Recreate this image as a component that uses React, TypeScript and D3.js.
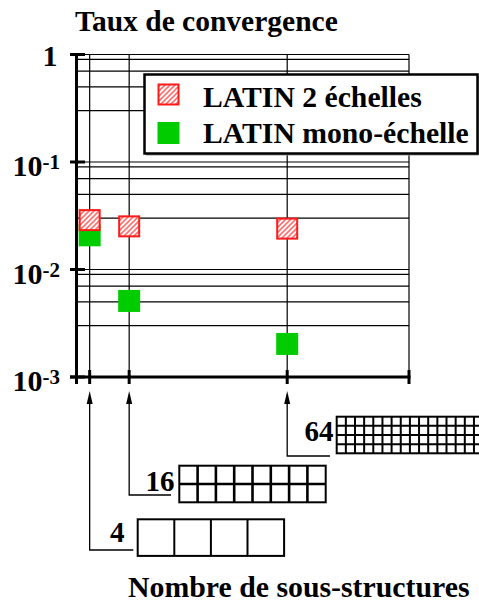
import React from "react";
import * as d3 from "d3";

// nombre de sous-structures (abscisses) et taux de convergence
const subdomains = [4, 16, 64];
const latinTwoScale = [0.0288, 0.0252, 0.024];
const latinMonoScale = [0.0208, 0.0051, 0.00203];
const seriesNames = ["LATIN 2 échelles", "LATIN mono-échelle"];
const xTicks = [0, 4, 16, 64, 101];
const yMajor = [1, 0.1, 0.01, 0.001];
const yExponents = ["", "-1", "-2", "-3"];
const yMinorFactors = [1, 0.9, 0.7, 0.5, 0.3];
const gridCols = [4, 8, 16];
const gridRows = [1, 2, 4];

const W = 479;
const H = 606;
const RED = "#ff1a1a";
const GREEN = "#00cc00";

// placement of the little sub-structure drawings under the axis
const sketchLayout = [
  { boxX: 137.7, boxY: 519.3, lineY: 550, lineEnd: 133.3, labelX: 124.5, labelY: 542, sw: 2 },
  { boxX: 179.3, boxY: 465.7, lineY: 495, lineEnd: 171, labelX: 174.5, labelY: 491, sw: 2.6 },
  { boxX: 336.7, boxY: 416.7, lineY: 456, lineEnd: 330, labelX: 333.5, labelY: 441, sw: 2 },
];
const boxH = 36.6;

const App = () => {
  const x = d3.scaleLinear().domain([0, 101]).range([76.5, 409]);
  const y = d3.scaleLog().domain([0.001, 1]).range([377, 54.5]);

  const x0 = x(0);
  const y0 = y(0.001);
  const xEnd = x(101);

  const gridValues = yMajor.slice(0, 3).flatMap((m) => yMinorFactors.map((f) => m * f));

  const hatchSquare = (cx: number, cy: number, s: number, key: string) => (
    <rect
      key={key}
      x={cx - s / 2}
      y={cy - s / 2}
      width={s}
      height={s}
      fill="url(#hatch)"
      stroke={RED}
      strokeWidth={2}
    />
  );

  return (
    <svg
      width={W}
      height={H}
      style={{ position: "absolute", left: 0, top: 0, background: "#fff" }}
      fontFamily="'Liberation Serif','Times New Roman',serif"
      fontWeight="bold"
    >
      <defs>
        <pattern id="hatch" patternUnits="userSpaceOnUse" width={5} height={5}>
          <rect width={5} height={5} fill="#fff" />
          <path d="M0,5 L5,0 M-1,1 L1,-1 M4,6 L6,4" stroke="#ff7070" strokeWidth={1.6} />
        </pattern>
      </defs>

      <text x={75} y={31} fontSize={29.5}>
        Taux de convergence
      </text>

      {/* grille */}
      <g stroke="#000" strokeWidth={1.2}>
        {gridValues.map((v, i) => (
          <line key={"h" + i} x1={x0} x2={xEnd} y1={y(v)} y2={y(v)} />
        ))}
        {[...subdomains, 101].map((v) => (
          <line key={"v" + v} x1={x(v)} x2={x(v)} y1={y(1)} y2={y0} />
        ))}
      </g>

      {/* axes */}
      <g stroke="#000" strokeWidth={3}>
        <line x1={x0} x2={x0} y1={y(1) - 1.5} y2={y0 + 7} />
        <line x1={70} x2={xEnd + 1.5} y1={y0} y2={y0} />
        {yMajor.map((v) => (
          <line key={"yt" + v} x1={70} x2={85} y1={y(v)} y2={y(v)} />
        ))}
        {xTicks.map((v) => (
          <line key={"xt" + v} x1={x(v)} x2={x(v)} y1={y0 - 7} y2={y0 + 7} />
        ))}
      </g>

      {yMajor.map((v, i) =>
        i === 0 ? (
          <text key={"yl" + v} x={42.5} y={y(v) + 11} fontSize={30}>
            1
          </text>
        ) : (
          <text key={"yl" + v} x={12.5} y={y(v) + 14} fontSize={30}>
            10
            <tspan fontSize={21} dy={-7}>
              {yExponents[i]}
            </tspan>
          </text>
        )
      )}

      {/* points */}
      {subdomains.map((n, i) => (
        <rect
          key={"g" + n}
          x={x(n) - 11}
          y={y(latinMonoScale[i]) - 11}
          width={22}
          height={22}
          fill={GREEN}
        />
      ))}
      {subdomains.map((n, i) => hatchSquare(x(n), y(latinTwoScale[i]), 20, "r" + n))}

      {/* legende */}
      <rect x={146} y={76} width={334} height={79.5} fill="#999" />
      <rect x={144.5} y={74.5} width={333} height={79} fill="#fff" stroke="#000" strokeWidth={2.5} />
      {hatchSquare(168.5, 94.5, 20, "lr")}
      <rect x={157.5} y={122} width={22} height={22} fill={GREEN} />
      <text x={203} y={106.5} fontSize={29.7}>
        {seriesNames[0]}
      </text>
      <text x={203} y={142.5} fontSize={29.7}>
        {seriesNames[1]}
      </text>

      {/* fleches et sous-structures */}
      {subdomains.map((n, i) => {
        const L = sketchLayout[i];
        const px = x(n);
        const cols = gridCols[i];
        const rows = gridRows[i];
        const cell = boxH / rows;
        const bw = cols * cell;
        return (
          <g key={"s" + n}>
            <path
              d={`M${px},402 V${L.lineY} H${L.lineEnd}`}
              fill="none"
              stroke="#000"
              strokeWidth={1.3}
            />
            <path d={`M${px},391 L${px - 3},404 L${px + 3},404 Z`} fill="#000" />
            <text x={L.labelX} y={L.labelY} fontSize={29} textAnchor="end">
              {n}
            </text>
            <g stroke="#000" strokeWidth={L.sw} fill="none">
              <rect x={L.boxX} y={L.boxY} width={bw} height={boxH} strokeWidth={2} />
              {d3.range(1, cols).map((c) => (
                <line
                  key={"c" + c}
                  x1={L.boxX + c * cell}
                  x2={L.boxX + c * cell}
                  y1={L.boxY}
                  y2={L.boxY + boxH}
                />
              ))}
              {d3.range(1, rows).map((r) => (
                <line
                  key={"r" + r}
                  x1={L.boxX}
                  x2={L.boxX + bw}
                  y1={L.boxY + r * cell}
                  y2={L.boxY + r * cell}
                />
              ))}
            </g>
          </g>
        );
      })}

      <text x={128} y={596.5} fontSize={29.8}>
        Nombre de sous-structures
      </text>
    </svg>
  );
};

export default App;
